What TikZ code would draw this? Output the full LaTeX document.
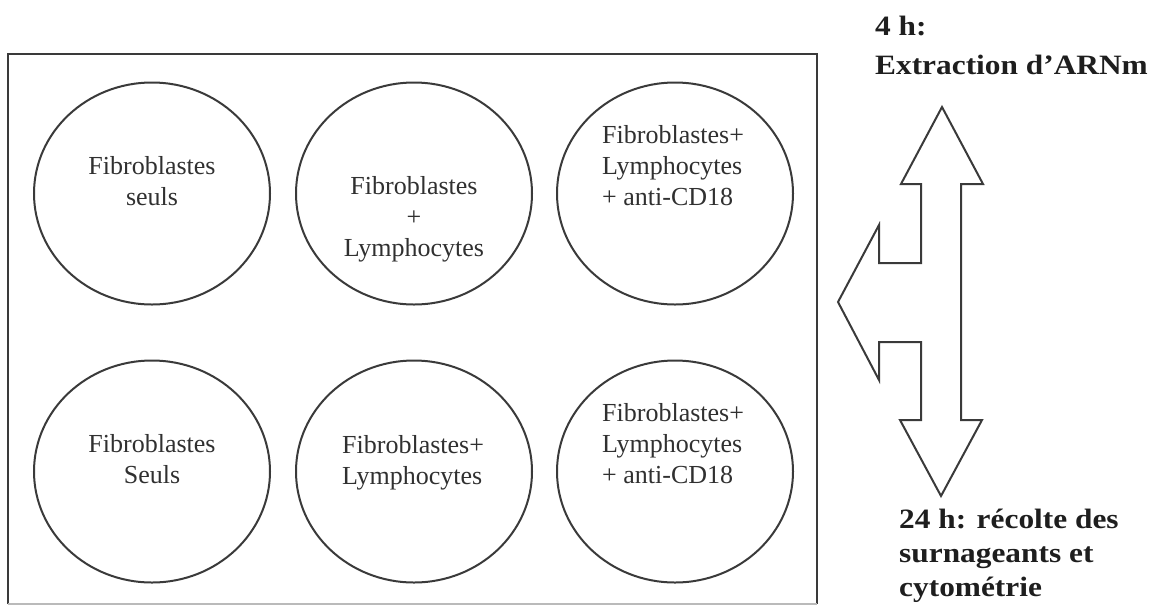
\documentclass[tikz,border=0pt]{standalone}
\usepackage{fontspec}
\setmainfont{Liberation Serif}
\newfontfamily\labelfont{Liberation Serif}[FakeStretch=1.12]
\usetikzlibrary{shapes.geometric}
\definecolor{ink}{HTML}{3A3A3A}
\definecolor{txt}{HTML}{303030}
\definecolor{lbl}{HTML}{1E1E1E}
\begin{document}
\begin{tikzpicture}[x=1pt,y=-1pt,
  edge/.style={draw=ink,line width=2pt},
  well/.style={edge,ellipse,minimum width=236pt,minimum height=222pt,inner sep=0pt},
  welltext/.style={anchor=base,align=center,text=txt,font=\fontsize{26}{31}\selectfont,inner sep=0pt},
  welltextl/.style={welltext,anchor=base west,align=left},
  lbltext/.style={anchor=base west,align=left,text=lbl,font=\labelfont\bfseries\fontsize{28}{34}\selectfont,inner sep=0pt}]
\useasboundingbox (0,0) rectangle (1157,606);
% plate
\node[minimum width=809pt,minimum height=550pt,inner sep=0pt] (plate) at (412.5,329) {};
\draw[edge] (plate.south west) -- (plate.north west) -- (plate.north east) -- (plate.south east);
\draw[draw=ink!35,line width=1.5pt] (plate.south west) -- (plate.south east);
% wells
\node[well] (c1) at (152,193.5) {};
\node[well] (c2) at (414,193.5) {};
\node[well] (c3) at (675,193.5) {};
\node[well] (c4) at (152,471.5) {};
\node[well] (c5) at (414,471.5) {};
\node[well] (c6) at (675,471.5) {};
% well texts (anchor = baseline of last line)
\node[welltext] (t1) at (152,205) {Fibroblastes\\seuls};
\node[welltext] (t2) at (414,256) {Fibroblastes\\+\\Lymphocytes};
\node[welltextl] (t3) at (602,205) {Fibroblastes+\\Lymphocytes\\+ anti-CD18};
\node[welltext] (t4) at (152,483) {Fibroblastes\\Seuls};
\node[welltextl] (t5) at (342,484) {Fibroblastes+\\Lymphocytes};
\node[welltextl] (t6) at (602,483) {Fibroblastes+\\Lymphocytes\\+ anti-CD18};
% three-headed arrow
\draw[edge,line join=miter] (942,107) -- (983,184) -- (961,184) -- (961,420) -- (982,420)
  -- (941,496) -- (900,420) -- (921,420) -- (921,342) -- (879,342) -- (879,380)
  -- (838,302) -- (879,225) -- (879,263) -- (921,263) -- (921,184) -- (901,184) -- cycle;
% labels
\node[lbltext] (l4) at (875,74) {4 h:\\[5pt]Extraction d’ARNm};
\node[lbltext] (l24) at (899,596) {24 h: récolte des\\surnageants et\\cytométrie};
\end{tikzpicture}
\end{document}
